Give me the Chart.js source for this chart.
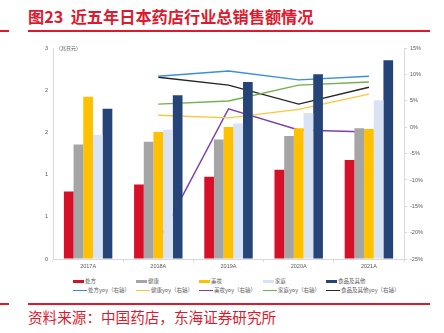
<!DOCTYPE html>
<html>
<head>
<meta charset="utf-8">
<script src="https://cdn.jsdelivr.net/npm/chart.js@4"></script>
<style>
  html, body { margin: 0; padding: 0; background: #fff; }
  body { width: 444px; height: 333px; position: relative; overflow: hidden;
         font-family: "Noto Sans CJK SC", "Noto Sans", sans-serif; }
  #title { position: absolute; left: 28px; top: 4px; font-size: 16.2px; font-weight: bold;
           color: #e0182d; white-space: nowrap; letter-spacing: 0; }
  .rule { position: absolute; height: 1.5px; background: #e0182d; }
  #source { position: absolute; left: 28px; top: 306px; font-size: 14.6px; color: #e0182d; white-space: nowrap; }
  #unit { position: absolute; left: 56px; top: 44px; font-size: 5px; color: #595959; }
  #wrap { position: absolute; left: 0; top: 40px; width: 444px; height: 235px; }
  #legend { position: absolute; left: 73px; top: 277px; width: 340px; }
  .row { height: 9px; position: relative; }
  .item { position: absolute; top: 0; font-size: 5.5px; color: #595959; white-space: nowrap; line-height: 9px; }
  .sw { display: inline-block; vertical-align: middle; margin-right: 1px; }
</style>
</head>
<body>
<div id="title">图23&nbsp;&nbsp;近五年日本药店行业总销售额情况</div>
<div class="rule" style="left:0;top:30px;width:9px"></div>
<div class="rule" style="left:28px;top:30px;width:402px"></div>
<div id="wrap"><canvas id="chart" width="444" height="235"></canvas></div>
<div id="unit">（兆日元）</div>
<div id="legend"></div>
<div class="rule" style="left:0;top:303px;width:9px"></div>
<div class="rule" style="left:28px;top:303px;width:402px"></div>
<div id="source">资料来源：中国药店，东海证券研究所</div>
<script>
const years = ['2017A', '2018A', '2019A', '2020A', '2021A'];
const barNames = ['处方', '健康', '美妆', '家庭', '食品及其他'];
const lineNames = ['处方yoy（右轴）', '健康yoy（右轴）', '美妆yoy（右轴）', '家庭yoy（右轴）', '食品及其他yoy（右轴）'];

// 销售额（兆日元）
const rx = [0.96, 1.06, 1.17, 1.27, 1.41];
const health = [1.63, 1.67, 1.70, 1.75, 1.86];
const beauty = [2.31, 1.81, 1.88, 1.86, 1.85];
const household = [1.77, 1.84, 1.93, 2.08, 2.26];
const food = [2.14, 2.33, 2.52, 2.63, 2.83];

// 同比 %
const rxYoy = [null, 9.7, 10.7, 9.0, 9.7];
const healthYoy = [null, 2.3, 1.8, 3.4, 6.3];
const beautyYoy = [null, -21.7, 3.5, -0.5, -0.9];
const householdYoy = [null, 4.4, 5.0, 8.0, 8.6];
const foodYoy = [null, 9.5, 8.0, 4.4, 7.6];

const leftTicks = [0, 0.6, 1.2, 1.8, 2.4, 3.0];
const rightTicks = [-25, -20, -15, -10, -5, 0, 5, 10, 15];

const barColors = ['#d7102a', '#a5a5a5', '#ffc000', '#dae3f3', '#264478'];
const lineColors = ['#3a8fd8', '#ffc53a', '#7b3fb2', '#72b04c', '#262626'];

const barData = [rx, health, beauty, household, food];
const lineData = [rxYoy, healthYoy, beautyYoy, householdYoy, foodYoy];

const datasets = [];
barData.forEach((d, i) => datasets.push({
    type: 'bar', label: barNames[i], data: d, yAxisID: 'y',
    backgroundColor: barColors[i], borderWidth: 0,
    barPercentage: 1, categoryPercentage: 0.69, order: 1
}));
lineData.forEach((d, i) => datasets.push({
    type: 'line', label: lineNames[i], data: d, yAxisID: 'y1',
    borderColor: lineColors[i], borderWidth: 1.4, pointRadius: 0,
    tension: 0, fill: false, order: 2
}));

const tickFont = { family: 'Liberation Sans, Arial, sans-serif', size: 5.5 };

new Chart(document.getElementById('chart'), {
    data: { labels: years, datasets: datasets },
    options: {
        responsive: false, maintainAspectRatio: false, animation: false,
        devicePixelRatio: 1,
        layout: { padding: { left: 33, right: 10, top: 7, bottom: 4 } },
        plugins: { legend: { display: false }, tooltip: { enabled: false }, title: { display: false } },
        scales: {
            x: {
                offset: true,
                grid: { offset: true, drawOnChartArea: false, tickLength: 3, color: '#d9d9d9' },
                border: { color: '#d9d9d9' },
                ticks: { font: tickFont, color: '#595959', padding: 1 },
                afterFit: s => { s.height = 12; }
            },
            y: {
                position: 'left', min: 0, max: 3,
                afterBuildTicks: s => { s.ticks = leftTicks.map(v => ({ value: v })); },
                grid: { drawOnChartArea: false, drawTicks: false },
                border: { color: '#d9d9d9' },
                ticks: { font: tickFont, color: '#595959', padding: 5,
                         callback: v => Math.round(v).toString() },
                afterFit: s => { s.width = 20; }
            },
            y1: {
                position: 'right', min: -25, max: 15,
                afterBuildTicks: s => { s.ticks = rightTicks.map(v => ({ value: v })); },
                grid: { drawOnChartArea: false, tickLength: 3, color: '#d9d9d9' },
                border: { color: '#d9d9d9' },
                ticks: { font: tickFont, color: '#595959', padding: 3, callback: v => v + '%' },
                afterFit: s => { s.width = 30; }
            }
        }
    }
});

// HTML legend, 5 columns x 2 rows
const cols = [0, 63, 126, 190, 253];
const legend = document.getElementById('legend');
[barNames, lineNames].forEach((names, r) => {
    const row = document.createElement('div');
    row.className = 'row';
    names.forEach((n, i) => {
        const it = document.createElement('span');
        it.className = 'item';
        it.style.left = cols[i] + 'px';
        const sw = document.createElement('span');
        sw.className = 'sw';
        if (r === 0) {
            sw.style.width = '11px'; sw.style.height = '3px'; sw.style.background = barColors[i];
        } else {
            sw.style.width = '14px'; sw.style.height = '1.5px'; sw.style.background = lineColors[i];
        }
        it.appendChild(sw);
        it.appendChild(document.createTextNode(n));
        row.appendChild(it);
    });
    legend.appendChild(row);
});
</script>
</body>
</html>
